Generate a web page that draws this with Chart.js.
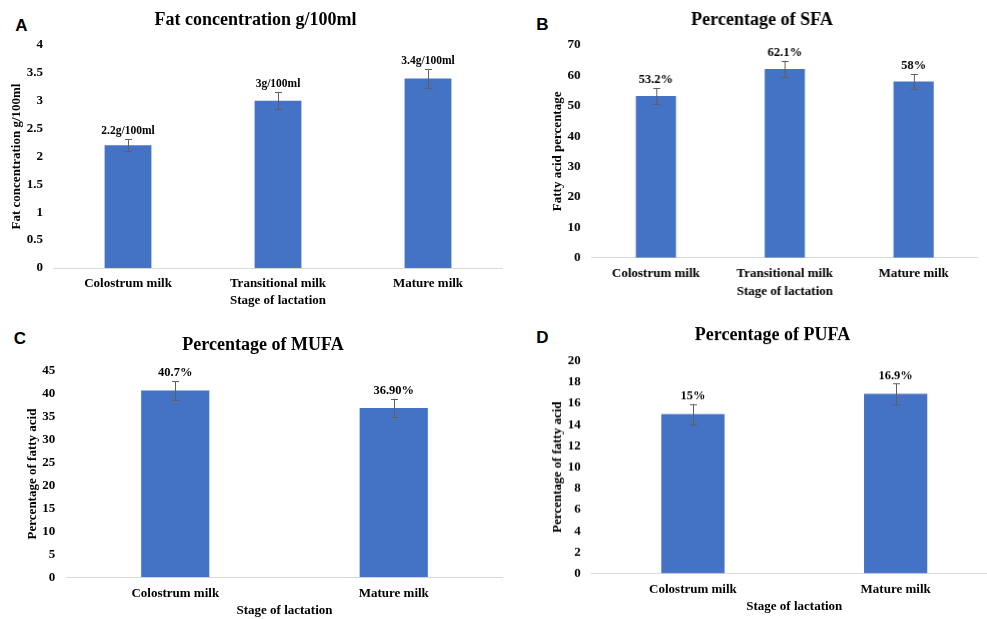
<!DOCTYPE html>
<html><head><meta charset="utf-8">
<script src="https://cdn.jsdelivr.net/npm/chart.js@4/dist/chart.umd.min.js"></script>
<style>
html,body{margin:0;padding:0;background:#fff;overflow:hidden;width:987px;height:619px;position:relative}
canvas{position:absolute}
.lt{position:absolute;font:bold 17px "Liberation Sans",Arial,sans-serif;line-height:17px;transform:translate(-50%,-50%);color:#000}
</style></head>
<body>
<div class="lt" style="left:21.5px;top:24.5px">A</div>
<div class="lt" style="left:542.5px;top:24px">B</div>
<div class="lt" style="left:20px;top:337.5px">C</div>
<div class="lt" style="left:542.5px;top:337px">D</div>
<canvas id="cA"></canvas>
<canvas id="cB"></canvas>
<canvas id="cC"></canvas>
<canvas id="cD"></canvas>
<script>
// ---- data ----
const categories3 = ['Colostrum milk', 'Transitional milk', 'Mature milk'];
const categories2 = ['Colostrum milk', 'Mature milk'];

const fatValues = [2.2, 3.0, 3.4];
const fatErrors = [0.11, 0.15, 0.17];
const fatLabels = ['2.2g/100ml', '3g/100ml', '3.4g/100ml'];

const sfaValues = [53.2, 62.1, 58.0];
const sfaErrors = [2.6, 2.7, 2.5];
const sfaLabels = ['53.2%', '62.1%', '58%'];

const mufaValues = [40.7, 36.9];
const mufaErrors = [2.0, 2.0];
const mufaLabels = ['40.7%', '36.90%'];

const pufaValues = [15.0, 16.9];
const pufaErrors = [0.95, 0.95];
const pufaLabels = ['15%', '16.9%'];

const titles = ['Fat concentration g/100ml', 'Percentage of SFA', 'Percentage of MUFA', 'Percentage of PUFA'];
const yTitles = ['Fat concentration g/100ml', 'Fatty acid percentage', 'Percentage of fatty acid', 'Percentage of fatty acid'];
const xTitle = 'Stage of lactation';
const yRanges = [[0, 4, 0.5], [0, 70, 10], [0, 45, 5], [0, 20, 2]];

// ---- styling ----
const SERIF = '"Liberation Serif", "Times New Roman", serif';
Chart.defaults.color = '#000';
Chart.defaults.font.family = SERIF;

const errLabelPlugin = {
  id: 'errLabels',
  afterDatasetsDraw(chart, args, opts) {
    const ctx = chart.ctx;
    const meta = chart.getDatasetMeta(0);
    const ys = chart.scales.y;
    ctx.save();
    meta.data.forEach((bar, i) => {
      const v = chart.data.datasets[0].data[i];
      const e = opts.errors[i];
      const x = Math.round(bar.x) + 0.5;
      const yt = ys.getPixelForValue(v + e);
      const yb = ys.getPixelForValue(v - e);
      ctx.strokeStyle = '#5f5f5f';
      ctx.lineWidth = 1;
      ctx.beginPath();
      ctx.moveTo(x, yt); ctx.lineTo(x, yb);
      ctx.moveTo(x - 3.5, Math.round(yt) + 0.5); ctx.lineTo(x + 3.5, Math.round(yt) + 0.5);
      ctx.moveTo(x - 3.5, Math.round(yb) + 0.5); ctx.lineTo(x + 3.5, Math.round(yb) + 0.5);
      ctx.stroke();
      ctx.fillStyle = '#000';
      ctx.font = 'bold ' + opts.fontSize + 'px ' + SERIF;
      ctx.textAlign = 'center';
      ctx.textBaseline = 'middle';
      ctx.fillText(opts.labels[i], bar.x, yt - 8);
    });
    ctx.restore();
  }
};

function makeChart(id, g, cats, values, errors, labels, idx, labelSize) {
  const cv = document.getElementById(id);
  cv.width = g.W; cv.height = g.H;
  cv.style.left = g.L + 'px'; cv.style.top = g.T + 'px';
  cv.style.width = g.W + 'px'; cv.style.height = g.H + 'px';
  const r = yRanges[idx];
  return new Chart(cv, {
    type: 'bar',
    data: { labels: cats, datasets: [{ data: values, backgroundColor: '#4472C4',
      barPercentage: 0.312, categoryPercentage: 1 }] },
    options: {
      responsive: false, animation: false, devicePixelRatio: 1,
      layout: { padding: 0 },
      plugins: {
        legend: { display: false }, tooltip: { enabled: false },
        title: { display: true, text: titles[idx], font: { size: 18, weight: 'bold', family: SERIF },
          color: '#000', padding: { top: g.tpt, bottom: g.tpb } },
        errLabels: { errors: errors, labels: labels, fontSize: labelSize }
      },
      scales: {
        x: {
          grid: { display: false, drawTicks: false },
          border: { display: true, color: '#D9D9D9', width: 1 },
          ticks: { padding: g.xtp, font: { size: 13, weight: 'bold' }, maxRotation: 0, autoSkip: false },
          title: { display: true, text: xTitle, font: { size: 13, weight: 'bold' }, padding: { top: 0, bottom: g.xtb } },
          afterFit: s => { s.height = g.xh; }
        },
        y: {
          min: r[0], max: r[1],
          grid: { display: false, drawTicks: false },
          border: { display: false },
          ticks: { stepSize: r[2], padding: g.ytp, font: { size: 13, weight: 'bold' },
            callback: v => String(Math.round(v * 100) / 100) },
          title: { display: true, text: yTitles[idx], font: { size: 13, weight: 'bold' }, padding: { top: g.ytt, bottom: 0 } },
          afterFit: s => { s.width = g.yw; }
        }
      }
    },
    plugins: [errLabelPlugin]
  });
}

makeChart('cA', { L: 8, T: 0, W: 495, H: 310, yw: 45, xh: 42, tpt: 9.2, tpb: 14.2, xtp: 8, xtb: 1.2, ytp: 10, ytt: 1.2 },
  categories3, fatValues, fatErrors, fatLabels, 0, 11.5);
makeChart('cB', { L: 546.3, T: 0, W: 431.4, H: 301, yw: 45.4, xh: 43.3, tpt: 9.2, tpb: 14.2, xtp: 8.5, xtb: 1.5, ytp: 11, ytt: 3.6 },
  categories3, sfaValues, sfaErrors, sfaLabels, 1, 12.5);
makeChart('cC', { L: 23, T: 320, W: 480, H: 300, yw: 43, xh: 42.7, tpt: 14.9, tpb: 14.2, xtp: 8.9, xtb: 1.2, ytp: 10.7, ytt: 1.5 },
  categories2, mufaValues, mufaErrors, mufaLabels, 2, 12.5);
makeChart('cD', { L: 547.9, T: 310, W: 449.6, H: 305.7, yw: 43.6, xh: 42.4, tpt: 14.2, tpb: 14.9, xtp: 8.5, xtb: 1.2, ytp: 10.8, ytt: 2 },
  categories2, pufaValues, pufaErrors, pufaLabels, 3, 12.5);
</script>
</body></html>
